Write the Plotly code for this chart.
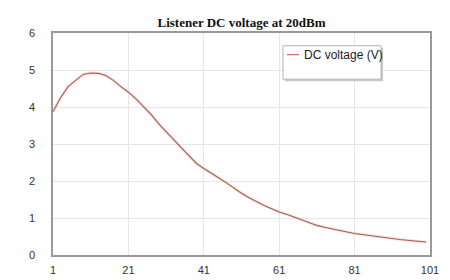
import plotly.graph_objects as go

# Data
x_vals = [1, 3, 5, 7, 9, 11, 13, 15, 17, 19, 21, 23, 25, 27, 29, 31, 33, 35, 37, 39,
          41, 43, 45, 47, 49, 51, 53, 55, 57, 59, 61, 63, 65, 67, 69, 71, 73, 75, 77, 79,
          81, 85, 89, 93, 97, 100]
dc_voltage = [3.87, 4.25, 4.55, 4.72, 4.88, 4.92, 4.91, 4.85, 4.72, 4.55,
              4.40, 4.22, 4.02, 3.80, 3.55, 3.32, 3.12, 2.90, 2.68, 2.48,
              2.34, 2.20, 2.08, 1.95, 1.80, 1.67, 1.55, 1.44, 1.34, 1.25,
              1.16, 1.10, 1.02, 0.95, 0.88, 0.80, 0.75, 0.70, 0.66, 0.62,
              0.58, 0.52, 0.47, 0.42, 0.38, 0.35]
series_name = "DC voltage (V)"
title_text = "Listener DC voltage at 20dBm"
x_ticks = [1, 21, 41, 61, 81, 101]
y_ticks = [0, 1, 2, 3, 4, 5, 6]

line_color = "#a85e55"

fig = go.Figure()
# soft glow under the line
fig.add_trace(go.Scatter(x=x_vals, y=dc_voltage, mode="lines",
                         line=dict(color="rgba(240,170,150,0.35)", width=3),
                         hoverinfo="skip", showlegend=False))
fig.add_trace(go.Scatter(x=x_vals, y=dc_voltage, mode="lines", name=series_name,
                         line=dict(color=line_color, width=1.1), showlegend=False))

# custom legend box (shadow + box + sample line + text)
fig.add_shape(type="rect", xref="paper", yref="paper",
              x0=(277 - 45) / 377, x1=(375 - 45) / 377,
              y0=(251 - 74) / 226, y1=(251 - 40) / 226,
              line=dict(width=0), fillcolor="#c8c8c8", layer="above")
fig.add_shape(type="rect", xref="paper", yref="paper",
              x0=(275 - 45) / 377, x1=(373 - 45) / 377,
              y0=(251 - 72) / 226, y1=(251 - 38) / 226,
              line=dict(width=1, color="#b5b5b5"), fillcolor="white", layer="above")
fig.add_shape(type="line", xref="paper", yref="paper",
              x0=(279 - 45) / 377, x1=(291 - 45) / 377,
              y0=(251 - 47) / 226, y1=(251 - 47) / 226,
              line=dict(width=1.2, color="#d06a62"), layer="above")
fig.add_annotation(text=series_name, xref="paper", yref="paper",
                   x=(294 - 45) / 377, y=(251 - 47) / 226,
                   xanchor="left", yanchor="middle", showarrow=False,
                   font=dict(family="Liberation Sans, Arial", size=12, color="#222"))

fig.update_layout(
    width=450, height=280,
    margin=dict(l=45, r=28, t=25, b=29),
    paper_bgcolor="white", plot_bgcolor="white",
    title=dict(text="<b>" + title_text + "</b>", x=(45 + 422) / 2 / 450, xanchor="center",
               y=1 - 14 / 280, yanchor="middle",
               font=dict(family="Liberation Serif, Times New Roman", size=13, color="#111")),
    showlegend=False,
)
fig.update_xaxes(range=[1, 101], tickvals=x_ticks, showgrid=True, gridcolor="#e6e6e6",
                 gridwidth=1, zeroline=False, showline=True, linecolor="#999", linewidth=1.5,
                 mirror=True, ticks="", ticklabelstandoff=4,
                 tickfont=dict(family="Liberation Sans, Arial", size=11, color="#333"))
fig.update_yaxes(range=[0, 6], tickvals=y_ticks, showgrid=True, gridcolor="#e6e6e6",
                 gridwidth=1, zeroline=False, showline=True, linecolor="#999", linewidth=1.5,
                 mirror=True, ticks="", ticklabelstandoff=14,
                 tickfont=dict(family="Liberation Sans, Arial", size=11, color="#333"))

fig.write_html("out.html")
